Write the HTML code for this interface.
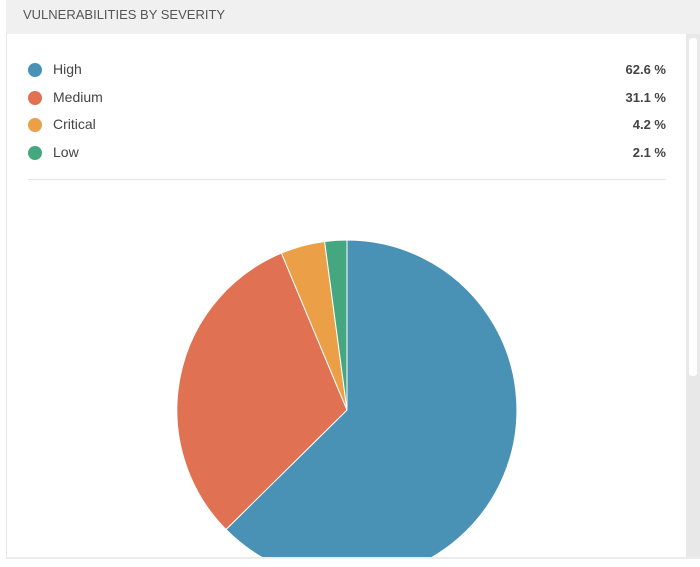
<!DOCTYPE html>
<html><head><style>
body{margin:0;width:700px;height:567px;overflow:hidden;background:#fff;font-family:"Liberation Sans",sans-serif;position:relative}
.hdr{position:absolute;left:6px;top:0;width:694px;height:34px;background:#f0f0f0}
.hdr span{position:absolute;left:17px;top:7px;font-size:13px;color:#555}
.left{position:absolute;left:6px;top:34px;width:1px;height:523px;background:#e6e6e6}
.track{position:absolute;left:686px;top:34px;width:14px;height:523px;background:#e8e8e8}
.thumb{position:absolute;left:689px;top:38px;width:8px;height:338px;background:#fff;border-radius:3px}
.bot{position:absolute;left:6px;top:557px;width:694px;height:2px;background:#ececec}
.row{position:absolute;left:28px;width:638px;height:20px;font-size:14px;color:#444}
.dot{position:absolute;left:0;top:3px;width:14px;height:14px;border-radius:50%}
.lbl{position:absolute;left:25px;top:1px}
.val{position:absolute;right:0;top:2px;font-weight:bold;font-size:13px;color:#444}
.sep{position:absolute;left:28px;top:179px;width:638px;height:1px;background:#e6e6e6}
</style></head><body>
<div class="hdr"><span>VULNERABILITIES BY SEVERITY</span></div>
<div class="left"></div>
<div class="row" style="top:60px"><div class="dot" style="background:#4a92b5"></div><span class="lbl">High</span><span class="val">62.6 %</span></div>
<div class="row" style="top:88px"><div class="dot" style="background:#e07152"></div><span class="lbl">Medium</span><span class="val">31.1 %</span></div>
<div class="row" style="top:115px"><div class="dot" style="background:#eba048"></div><span class="lbl">Critical</span><span class="val">4.2 %</span></div>
<div class="row" style="top:143px"><div class="dot" style="background:#44a780"></div><span class="lbl">Low</span><span class="val">2.1 %</span></div>
<div class="sep"></div>
<svg style="position:absolute;left:0;top:0" width="686" height="557">
<path d="M347,410 L347,240 A170,170 0 1 1 226,529.5 Z" fill="#4a92b5" stroke="#fff" stroke-width="1"/>
<path d="M347,410 L226,529.5 A170,170 0 0 1 281.4,253.1 Z" fill="#e07152" stroke="#fff" stroke-width="1"/>
<path d="M347,410 L281.4,253.1 A170,170 0 0 1 324.6,241.5 Z" fill="#eba048" stroke="#fff" stroke-width="1"/>
<path d="M347,410 L324.6,241.5 A170,170 0 0 1 347,240 Z" fill="#44a780" stroke="#fff" stroke-width="1"/>
</svg>
<div class="track"></div><div class="thumb"></div>
<div class="bot"></div>
</body></html>
